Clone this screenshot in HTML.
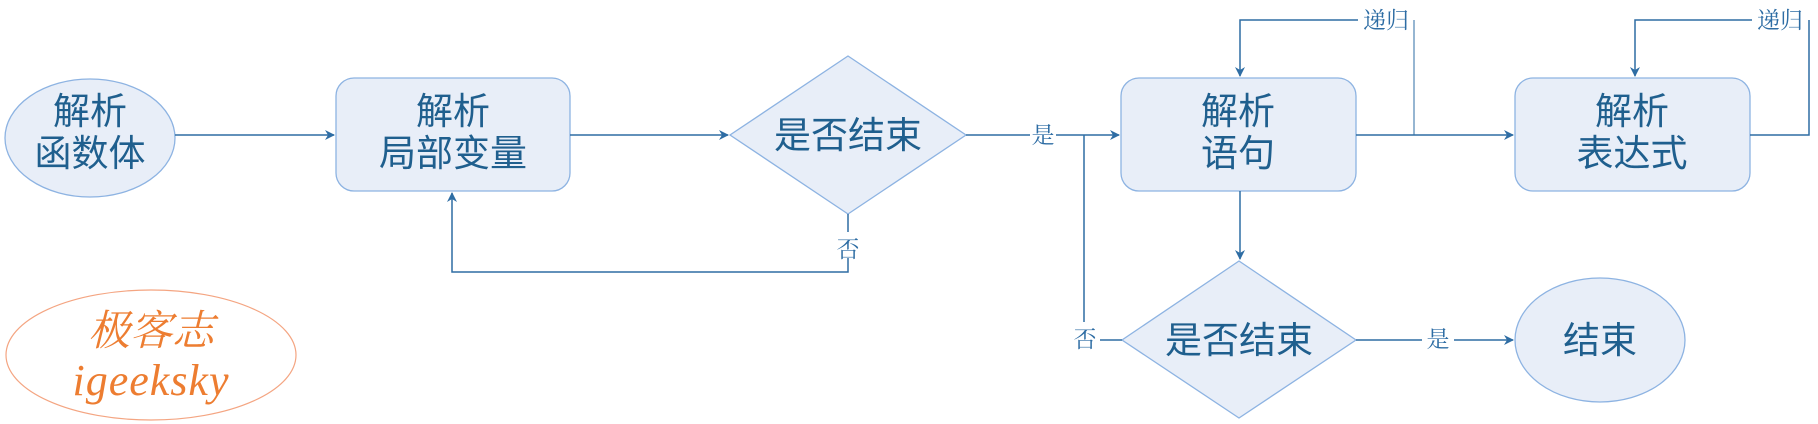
<!DOCTYPE html>
<html><head><meta charset="utf-8"><style>
html,body{margin:0;padding:0;background:#fff;}
svg{display:block;}
.n{font-family:"Liberation Sans","Noto Sans CJK SC",sans-serif;font-size:37px;fill:#1f5f8e;text-anchor:middle;}
.l{font-family:"Liberation Serif","Noto Serif CJK SC",serif;font-size:23px;fill:#2e6da4;text-anchor:middle;}
</style></head><body>
<svg width="1818" height="424" viewBox="0 0 1818 424" xmlns="http://www.w3.org/2000/svg">
<defs><marker id="a" markerWidth="10" markerHeight="10" refX="9" refY="5" orient="auto" markerUnits="userSpaceOnUse"><path d="M0,0 L10,5 L0,10 L3,5 z" fill="#2e6da4"/></marker></defs>
<g fill="#e8eef8" stroke="#8db3e2" stroke-width="1.3">
<ellipse cx="90" cy="138" rx="85" ry="59"/>
<rect x="336" y="78" width="234" height="113" rx="18"/>
<polygon points="848,56 966,135 848,214 730,135"/>
<rect x="1121" y="78" width="235" height="113" rx="18"/>
<rect x="1515" y="78" width="235" height="113" rx="18"/>
<polygon points="1239,261 1356,340 1239,418 1122,340"/>
<ellipse cx="1600" cy="340" rx="85" ry="62"/>
</g>
<ellipse cx="151" cy="355" rx="145" ry="65" fill="none" stroke="#f4a582" stroke-width="1.2"/>
<g fill="none" stroke="#2e6da4" stroke-width="1.5">
<path d="M175,135 L334,135" marker-end="url(#a)"/>
<path d="M570,135 L728,135" marker-end="url(#a)"/>
<path d="M848,214 L848,232 M848,258 L848,272 L452,272 L452,193" marker-end="url(#a)"/>
<path d="M966,135 L1030,135 M1056,135 L1119,135" marker-end="url(#a)"/>
<path d="M1084,135 L1084,322"/>
<path d="M1100,340 L1122,340"/>
<path d="M1356,135 L1513,135" marker-end="url(#a)"/>
<path d="M1414,135 L1414,20" stroke-width="1"/>
<path d="M1358,20 L1240,20 L1240,76" marker-end="url(#a)"/>
<path d="M1750,135 L1809,135 L1809,20" />
<path d="M1752,20 L1635,20 L1635,76" marker-end="url(#a)"/>
<path d="M1240,191 L1240,259" marker-end="url(#a)"/>
<path d="M1356,340 L1422,340 M1454,340 L1513,340" marker-end="url(#a)"/>
</g>
<text class="n" x="90" y="124">解析</text><text class="n" x="90" y="166">函数体</text>
<text class="n" x="453" y="124">解析</text><text class="n" x="453" y="166">局部变量</text>
<text class="n" x="848" y="148">是否结束</text>
<text class="n" x="1238" y="124">解析</text><text class="n" x="1238" y="166">语句</text>
<text class="n" x="1632" y="124">解析</text><text class="n" x="1632" y="166">表达式</text>
<text class="n" x="1239" y="353">是否结束</text>
<text class="n" x="1600" y="353">结束</text>
<text class="l" x="848" y="257">否</text>
<text class="l" x="1043" y="143">是</text>
<text class="l" x="1085" y="347">否</text>
<text class="l" x="1438" y="347">是</text>
<text class="l" x="1386" y="28">递归</text>
<text class="l" x="1780" y="28">递归</text>
<text x="151" y="345" text-anchor="middle" font-family="'Liberation Serif','Noto Serif CJK SC',serif" font-style="italic" font-size="42" fill="#ed7d31">极客志</text>
<text x="151" y="395" text-anchor="middle" font-family="'Liberation Serif',serif" font-style="italic" font-size="44" fill="#ed7d31" letter-spacing="1">igeeksky</text>
</svg>
</body></html>
